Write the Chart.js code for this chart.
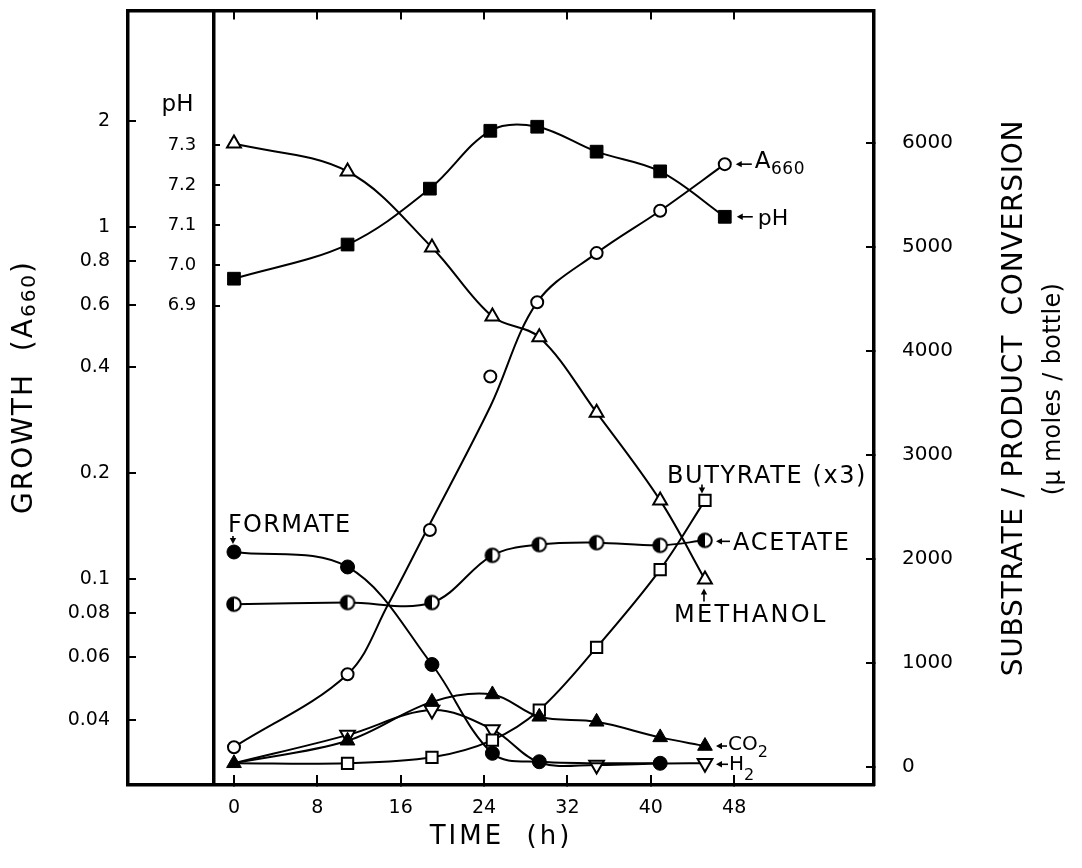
<!DOCTYPE html>
<html><head><meta charset="utf-8">
<script src="https://cdn.jsdelivr.net/npm/chart.js"></script>
<style>html,body{margin:0;padding:0;background:#fff;}canvas{display:block;}</style>
</head><body>
<canvas id="c" width="1082" height="868"></canvas>
<script>
// ---------- data ----------
const xTicks = [0, 8, 16, 24, 32, 40, 48];
const growthTicks = [0.04, 0.06, 0.08, 0.1, 0.2, 0.4, 0.6, 0.8, 1, 2];
const growthTickLabels = ['0.04', '0.06', '0.08', '0.1', '0.2', '0.4', '0.6', '0.8', '1', '2'];
const phTicks = [6.9, 7.0, 7.1, 7.2, 7.3];
const phTickLabels = ['6.9', '7.0', '7.1', '7.2', '7.3'];
const conversionTicks = [0, 1000, 2000, 3000, 4000, 5000, 6000];

const timeGrowth = [0, 10.9, 18.8, 24.6, 29.1, 34.8, 40.9, 47.1];
const a660 = [0.0334, 0.0538, 0.138, 0.376, 0.611, 0.842, 1.11, 1.505];
const phValues = [6.967, 7.052, 7.191, 7.335, 7.345, 7.283, 7.234, 7.121];
// the drawn (fitted) A660 curve
const a660CurveTime = [0, 10.9, 14.8, 18.5, 24.6, 29.1, 34.8, 40.9, 47.1];
const a660Curve = [0.0334, 0.0538, 0.0849, 0.138, 0.309, 0.611, 0.842, 1.11, 1.505];

const timeProducts = [0, 10.9, 19.0, 24.8, 29.3, 34.8, 40.9, 45.2];
const methanol = [5993, 5724, 4994, 4329, 4130, 3405, 2561, 1800];
const acetate = [1563, 1579, 1579, 2033, 2136, 2155, 2129, 2177];
const formateTime = [0, 10.9, 19.0, 24.8, 29.3, 40.9];
const formate = [2065, 1921, 983, 129, 48, 33];
const butyrate = [33, 33, 90, 256, 545, 1147, 1896, 2561];
const co2 = [33, 250, 624, 695, 480, 432, 282, 199];
const h2 = [33, 304, 545, 359, 40, 16, 30, 33];

// ---------- axis ranges ----------
const X_MIN = -10.17, X_MAX = 61.42;
const G_MIN = 0.02609, G_MAX = 4.106;
const PH_MIN = 5.7075, PH_MAX = 7.6342;
const R_MIN = -175.8, R_MAX = 7272.4;
const PH_AXIS_AT = -1.97;

const FONT = "'DejaVu Sans', 'Liberation Sans', sans-serif";

function pts(xs, ys) { return xs.map((x, i) => ({x: x, y: ys[i]})); }

function halfCircle(r) {
  const s = 18;
  const c = document.createElement('canvas'); c.width = s; c.height = s;
  const g = c.getContext('2d'); const cx = s / 2, cy = s / 2;
  g.beginPath(); g.arc(cx, cy, r, 0, Math.PI * 2); g.fillStyle = '#fff'; g.fill();
  g.beginPath(); g.moveTo(cx, cy - r); g.arc(cx, cy, r, -Math.PI / 2, Math.PI / 2, true); g.closePath();
  g.fillStyle = '#000'; g.fill();
  g.beginPath(); g.arc(cx, cy, r, 0, Math.PI * 2); g.lineWidth = 2; g.strokeStyle = '#000'; g.stroke();
  return c;
}
const halfImg = halfCircle(6.8);

const base = {borderColor: '#000', borderWidth: 2, tension: 0.35, pointBorderColor: '#000', xAxisID: 'x', fill: false};

const datasets = [
  Object.assign({}, base, {label: 'Formate', data: pts(formateTime, formate), yAxisID: 'yR',
    pointStyle: 'circle', pointRadius: 7, pointBackgroundColor: '#000', pointBorderWidth: 1}),
  Object.assign({}, base, {label: 'CO2', data: pts(timeProducts, co2), yAxisID: 'yR',
    pointStyle: 'triangle', pointRadius: 8.5, pointBackgroundColor: '#000', pointBorderWidth: 1}),
  Object.assign({}, base, {label: 'Acetate', data: pts(timeProducts, acetate), yAxisID: 'yR',
    pointStyle: halfImg, pointRadius: 7}),
  Object.assign({}, base, {label: 'pH', data: pts(timeGrowth, phValues), yAxisID: 'yPH',
    pointStyle: 'rect', pointRadius: 9, pointBackgroundColor: '#000', pointBorderWidth: 1}),
  Object.assign({}, base, {label: 'A660', data: pts(timeGrowth, a660), yAxisID: 'yG', showLine: false,
    pointStyle: 'circle', pointRadius: 6, pointBackgroundColor: '#fff', pointBorderWidth: 2}),
  Object.assign({}, base, {label: 'Methanol', data: pts(timeProducts, methanol), yAxisID: 'yR',
    pointStyle: 'triangle', pointRadius: 8, pointBackgroundColor: '#fff', pointBorderWidth: 2}),
  Object.assign({}, base, {label: 'Butyrate', data: pts(timeProducts, butyrate), yAxisID: 'yR',
    pointStyle: 'rect', pointRadius: c => c.dataIndex === 0 ? 0 : 8, pointBackgroundColor: '#fff', pointBorderWidth: 2}),
  Object.assign({}, base, {label: 'H2', data: pts(timeProducts, h2), yAxisID: 'yR',
    pointStyle: 'triangle', pointRotation: 180,
    pointRadius: c => (c.dataIndex === 0 || c.dataIndex === 4 || c.dataIndex === 6) ? 0 : 8.5,
    pointBackgroundColor: '#fff', pointBorderWidth: 2}),
  Object.assign({}, base, {label: 'A660 curve', data: pts(a660CurveTime, a660Curve), yAxisID: 'yG',
    pointRadius: 0})
];

// ---------- text helpers ----------
function rich(ctx, x, y, parts, o) {
  o = o || {};
  ctx.save();
  ctx.translate(x, y);
  if (o.rot) ctx.rotate(o.rot);
  ctx.fillStyle = '#000'; ctx.textAlign = 'left'; ctx.textBaseline = 'alphabetic';
  let total = 0;
  parts.forEach(p => {
    ctx.font = p.size + 'px ' + FONT;
    ctx.letterSpacing = (p.ls != null ? p.ls : (o.ls || 0)) + 'px';
    p.w = ctx.measureText(p.t).width; total += p.w;
  });
  let cx = o.align === 'center' ? -total / 2 : (o.align === 'right' ? -total : 0);
  parts.forEach(p => {
    ctx.font = p.size + 'px ' + FONT;
    ctx.letterSpacing = (p.ls != null ? p.ls : (o.ls || 0)) + 'px';
    ctx.fillText(p.t, cx, p.dy || 0); cx += p.w;
  });
  ctx.restore();
}
function arrow(ctx, x1, y1, x2, y2) {
  const a = Math.atan2(y2 - y1, x2 - x1), L = 6, W = 3.2;
  ctx.save();
  ctx.strokeStyle = '#000'; ctx.fillStyle = '#000'; ctx.lineWidth = 1.6;
  ctx.beginPath(); ctx.moveTo(x1, y1);
  ctx.lineTo(x2 - Math.cos(a) * L * 0.6, y2 - Math.sin(a) * L * 0.6); ctx.stroke();
  ctx.beginPath(); ctx.moveTo(x2, y2);
  ctx.lineTo(x2 - Math.cos(a) * L - Math.sin(a) * W, y2 - Math.sin(a) * L + Math.cos(a) * W);
  ctx.lineTo(x2 - Math.cos(a) * L + Math.sin(a) * W, y2 - Math.sin(a) * L - Math.cos(a) * W);
  ctx.closePath(); ctx.fill();
  ctx.restore();
}

const labelsPlugin = {
  id: 'labels',
  afterDraw(chart) {
    const ctx = chart.ctx, s = chart.scales, ca = chart.chartArea;
    const px = (xs, i) => s.x.getPixelForValue(xs[i]);
    const last = a => a.length - 1;

    // A660 label
    let P = {x: px(timeGrowth, last(timeGrowth)), y: s.yG.getPixelForValue(a660[last(a660)])};
    arrow(ctx, P.x + 27, P.y, P.x + 11, P.y);
    rich(ctx, P.x + 30, P.y + 4, [{t: 'A', size: 23}, {t: '660', size: 17, dy: 6}], {ls: 0.5});
    // pH label
    P = {x: px(timeGrowth, last(timeGrowth)), y: s.yPH.getPixelForValue(phValues[last(phValues)])};
    arrow(ctx, P.x + 28, P.y, P.x + 12, P.y);
    rich(ctx, P.x + 33, P.y + 8, [{t: 'pH', size: 22}]);
    // ACETATE
    P = {x: px(timeProducts, last(timeProducts)), y: s.yR.getPixelForValue(acetate[last(acetate)])};
    arrow(ctx, P.x + 25, P.y + 1, P.x + 11, P.y + 1);
    rich(ctx, P.x + 28, P.y + 10, [{t: 'ACETATE', size: 24}], {ls: 1.8});
    // BUTYRATE (x3)
    P = {x: px(timeProducts, last(timeProducts)), y: s.yR.getPixelForValue(butyrate[last(butyrate)])};
    rich(ctx, P.x - 38, P.y - 17, [{t: 'BUTYRATE (x3)', size: 24}], {ls: 1.6});
    arrow(ctx, P.x - 3, P.y - 16, P.x - 3, P.y - 7);
    // METHANOL
    P = {x: px(timeProducts, last(timeProducts)), y: s.yR.getPixelForValue(methanol[last(methanol)])};
    rich(ctx, P.x - 31, P.y + 42, [{t: 'METHANOL', size: 24}], {ls: 2.3});
    arrow(ctx, P.x - 1, P.y + 22, P.x - 1, P.y + 9);
    // FORMATE
    P = {x: px(formateTime, 0), y: s.yR.getPixelForValue(formate[0])};
    rich(ctx, P.x - 6, P.y - 20, [{t: 'FORMATE', size: 24}], {ls: 1.3});
    arrow(ctx, P.x - 1, P.y - 16, P.x - 1, P.y - 8);
    // CO2
    P = {x: px(timeProducts, last(timeProducts)), y: s.yR.getPixelForValue(co2[last(co2)])};
    arrow(ctx, P.x + 22, P.y, P.x + 11, P.y);
    rich(ctx, P.x + 23, P.y + 4, [{t: 'CO', size: 20}, {t: '2', size: 16, dy: 7}]);
    // H2
    P = {x: px(timeProducts, last(timeProducts)), y: s.yR.getPixelForValue(h2[last(h2)])};
    arrow(ctx, P.x + 23, P.y + 1, P.x + 11, P.y + 1);
    rich(ctx, P.x + 24, P.y + 7, [{t: 'H', size: 20}, {t: '2', size: 16, dy: 10}]);

    // pH axis caption
    const phX = s.x.getPixelForValue(PH_AXIS_AT);
    rich(ctx, phX - 20, s.yPH.getPixelForValue(7.3) - 34, [{t: 'pH', size: 23}], {align: 'right'});

    // axis titles
    rich(ctx, 32, 387, [{t: 'GROWTH  (A', size: 28}, {t: '660', size: 20, dy: 3}, {t: ')', size: 28}],
      {rot: -Math.PI / 2, align: 'center', ls: 2});
    rich(ctx, 1022, 398, [{t: 'SUBSTRATE / PRODUCT  CONVERSION', size: 28}],
      {rot: -Math.PI / 2, align: 'center', ls: 0.8});
    rich(ctx, 1060, 389, [{t: '(\u03bc moles / bottle)', size: 24}],
      {rot: -Math.PI / 2, align: 'center', ls: 0.3});
    rich(ctx, (ca.left + ca.right) / 2, 844, [{t: 'TIME  (h)', size: 26}], {align: 'center', ls: 3});
  }
};

function noPad(sc) { sc.paddingTop = 0; sc.paddingBottom = 0; sc.paddingLeft = 0; sc.paddingRight = 0; }

const tickBase = {color: '#000', autoSkip: false, maxRotation: 0};
const gridBase = {drawOnChartArea: false, color: '#000', lineWidth: 2};
const borderBase = {color: '#000', width: 3.5};

new Chart(document.getElementById('c'), {
  type: 'line',
  data: {datasets: datasets},
  plugins: [labelsPlugin],
  options: {
    responsive: false, animation: false, devicePixelRatio: 1, events: [],
    layout: {padding: 0},
    plugins: {legend: {display: false}, tooltip: {enabled: false}},
    scales: {
      x: {type: 'linear', position: 'bottom', min: X_MIN, max: X_MAX,
        afterBuildTicks: sc => { sc.ticks = xTicks.map(v => ({value: v})); },
        afterFit: sc => { sc.height = 83; noPad(sc); },
        ticks: Object.assign({}, tickBase, {font: {family: FONT, size: 19}, padding: 22, callback: v => String(v)}),
        grid: Object.assign({}, gridBase, {tickLength: -10}), border: borderBase},
      xTop: {type: 'linear', position: 'top', min: X_MIN, max: X_MAX,
        afterBuildTicks: sc => { sc.ticks = xTicks.map(v => ({value: v})); },
        afterFit: sc => { sc.height = 9.5; noPad(sc); },
        ticks: {display: false},
        grid: Object.assign({}, gridBase, {tickLength: -9}), border: borderBase},
      yG: {type: 'logarithmic', position: 'left', min: G_MIN, max: G_MAX,
        afterBuildTicks: sc => { sc.ticks = growthTicks.map(v => ({value: v})); },
        afterFit: sc => { sc.width = 128; noPad(sc); },
        ticks: Object.assign({}, tickBase, {font: {family: FONT, size: 19}, padding: 26,
          callback: v => growthTickLabels[growthTicks.indexOf(v)]}),
        grid: Object.assign({}, gridBase, {tickLength: -8}), border: borderBase},
      yPH: {type: 'linear', position: {x: PH_AXIS_AT}, min: PH_MIN, max: PH_MAX,
        afterBuildTicks: sc => { sc.ticks = phTicks.map(v => ({value: v})); },
        afterFit: sc => { noPad(sc); },
        ticks: Object.assign({}, tickBase, {font: {family: FONT, size: 18}, padding: 0,
          callback: v => phTickLabels[phTicks.indexOf(v)] + '   '}),
        grid: Object.assign({}, gridBase, {tickLength: -8}), border: borderBase},
      yR: {type: 'linear', position: 'right', min: R_MIN, max: R_MAX,
        afterBuildTicks: sc => { sc.ticks = conversionTicks.map(v => ({value: v})); },
        afterFit: sc => { sc.width = 208; noPad(sc); },
        ticks: Object.assign({}, tickBase, {font: {family: FONT, size: 20}, padding: 36, callback: v => String(v)}),
        grid: Object.assign({}, gridBase, {tickLength: -8}), border: borderBase}
    }
  }
});
</script>
</body></html>
